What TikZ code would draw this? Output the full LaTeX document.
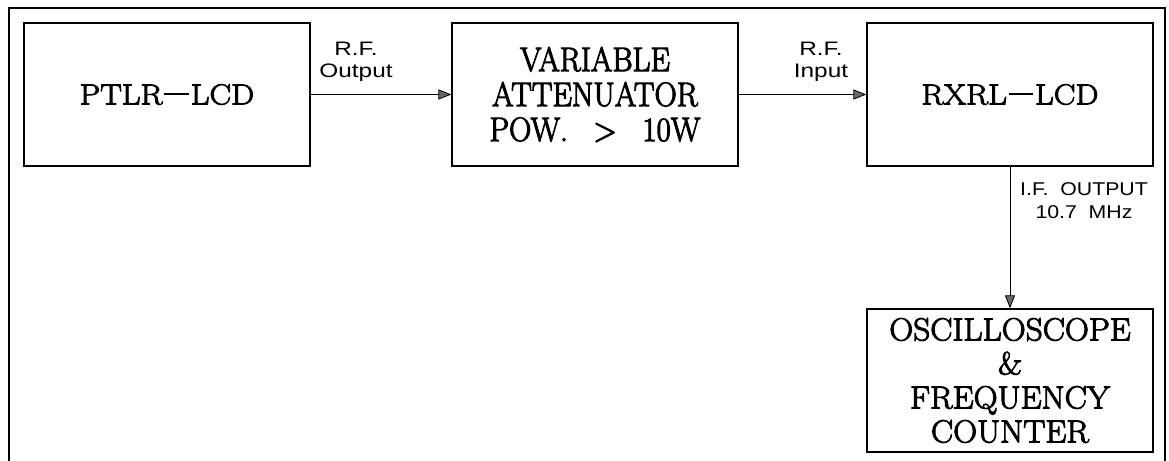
\documentclass[tikz,border=0pt]{standalone}
\usepackage{fontspec}
\usetikzlibrary{arrows.meta}
\newfontfamily\blockwide{Latin Modern Roman}[FakeStretch=1.12,FakeBold=3]
\newfontfamily\blocknarrow{Latin Modern Roman}[FakeStretch=0.91,FakeBold=3]
\newfontfamily\blockmid{Latin Modern Roman}[FakeStretch=1.04,FakeBold=3]
\newfontfamily\lblfont{Liberation Sans}[FakeStretch=1.25]
\newfontfamily\lblnarrow{Liberation Sans}[FakeStretch=1.15]
% long dash at mid cap height, as in the plotted lettering
\newcommand\plotdash{\kern0.06em\rule[0.33em]{0.85em}{0.08em}\kern0.06em}
\tikzset{
  block/.style={draw, line width=1.3bp, minimum width=286bp, minimum height=143bp,
    inner sep=0pt, align=center},
  sig/.style={line width=1bp, -{Triangle[length=13bp,width=10bp,fill=black!60,line width=0.8bp]}},
  lbl/.style={align=center, inner sep=0pt, font=\lblfont\fontsize{19.5bp}{22bp}\selectfont},
}
\begin{document}
\begin{tikzpicture}[x=1bp,y=-1bp]
  \useasboundingbox (0,0) rectangle (1169,461);
  % outer frame, open at the bottom
  \draw[line width=2.5bp] (9,461) -- (9,8) -- (1165,8) -- (1165,461);

  \node[block, font=\blockwide\fontsize{29bp}{34bp}\selectfont] (tx) at (167,94.5) {PTLR\plotdash LCD};
  \node[block, font=\blocknarrow\fontsize{34bp}{35bp}\selectfont] (att) at (595,94.5)
    {VARIABLE\\ATTENUATOR\\POW.\hspace{0.75em}>\hspace{0.75em}10W};
  \node[block, font=\blockwide\fontsize{29bp}{34bp}\selectfont] (rx) at (1010,94.5) {RXRL\plotdash LCD};
  \node[block, font=\blockmid\fontsize{32bp}{34bp}\selectfont] (osc) at (1010,380.5)
    {OSCILLOSCOPE\\\&\\FREQUENCY\\COUNTER};

  \draw[sig] (tx) -- (att);
  \draw[sig] (att) -- (rx);
  \draw[sig] (rx) -- (osc);

  \node[lbl] (l1) at (356,62) {R.F.\\Output};
  \node[lbl] (l2) at (821,62) {R.F.\\Input};
  \node[lbl, font=\lblnarrow\fontsize{18.5bp}{23bp}\selectfont] (l3) at (1084,201)
    {I.F.\ \ OUTPUT\\10.7\ \ MHz};
\end{tikzpicture}
\end{document}
